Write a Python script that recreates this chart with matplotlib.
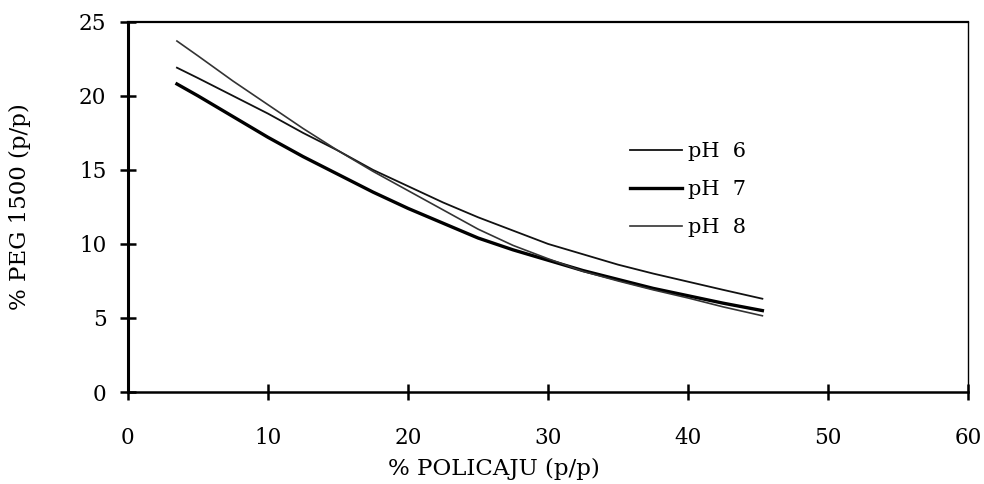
import numpy as np
import matplotlib
matplotlib.use('Agg')
import matplotlib.pyplot as plt

plt.rcParams['font.family'] = ['DejaVu Serif']

# % POLICAJU values where the curves were read
x = [3.5, 5, 7.5, 10, 12.5, 15, 17.5, 20, 22.5, 25, 27.5, 30, 32.5, 35, 37.5, 40, 42.5, 45.3]
# % PEG 1500 for each pH
ph6 = [21.9, 21.2, 20.0, 18.8, 17.5, 16.3, 15.0, 13.9, 12.8, 11.8, 10.9, 10.0, 9.3, 8.6, 8.0, 7.45, 6.9, 6.3]
ph7 = [20.8, 20.0, 18.6, 17.2, 15.9, 14.7, 13.5, 12.4, 11.4, 10.4, 9.6, 8.9, 8.2, 7.6, 7.0, 6.5, 6.0, 5.5]
ph8 = [23.7, 22.7, 21.0, 19.4, 17.8, 16.3, 14.9, 13.6, 12.3, 11.0, 9.9, 9.0, 8.15, 7.5, 6.9, 6.35, 5.75, 5.15]

xticks = [0, 10, 20, 30, 40, 50, 60]
yticks = [0, 5, 10, 15, 20, 25]

fig = plt.figure(figsize=(9.84, 4.84), dpi=100, facecolor='w')
ax = fig.add_axes([0.130, 0.190, 0.854, 0.765])

ax.plot(x, ph6, color='#111111', lw=1.3, label='pH  6')
ax.plot(x, ph7, color='black', lw=2.4, label='pH  7')
ax.plot(x, ph8, color='#333333', lw=1.2, label='pH  8')

ax.set_xlim(0, 60)
ax.set_ylim(0, 25)
ax.set_xticks(xticks)
ax.set_yticks(yticks)
ax.tick_params(direction='inout', length=11, width=1.8, labelsize=15.5, colors='black')
ax.tick_params(axis='x', pad=20)
ax.tick_params(axis='y', pad=10)

ax.spines['left'].set_linewidth(2.2)
ax.spines['bottom'].set_linewidth(1.8)
ax.spines['top'].set_linewidth(1.6)
ax.spines['right'].set_linewidth(1.0)

ax.set_xlabel('% POLICAJU (p/p)', fontsize=16.5)
ax.set_ylabel('% PEG 1500 (p/p)', fontsize=16.5)
ax.xaxis.set_label_coords(0.435, -0.178)
ax.yaxis.set_label_coords(-0.115, 0.5)

leg = ax.legend(loc='upper left', bbox_to_anchor=(0.575, 0.725), frameon=False,
                fontsize=15, handlelength=2.5, handletextpad=0.3, labelspacing=0.9)

fig.savefig('out.png', dpi=100)
